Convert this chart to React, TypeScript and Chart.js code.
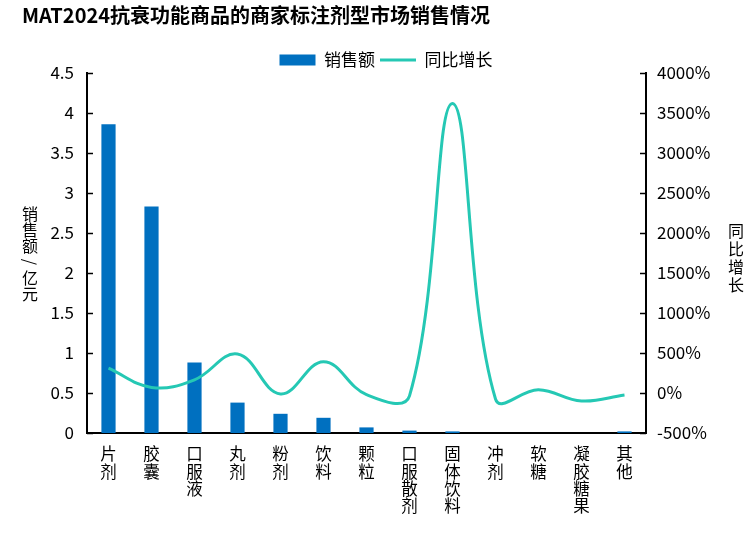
import React, { useEffect, useRef } from 'react';
import { Chart, registerables } from 'chart.js';

Chart.register(...registerables);

const titleText = 'MAT2024抗衰功能商品的商家标注剂型市场销售情况';
const categoryNames = ['片剂', '胶囊', '口服液', '丸剂', '粉剂', '饮料', '颗粒', '口服散剂', '固体饮料', '冲剂', '软糖', '凝胶糖果', '其他'];
const salesValues = [3.86, 2.83, 0.88, 0.38, 0.24, 0.19, 0.07, 0.03, 0.02, 0, 0, 0, 0.02];
const growthValues = [310, 70, 165, 487, -12, 392, -20, -35, 3620, -75, 40, -100, -25];
const seriesNames = ['销售额', '同比增长'];
const leftAxisTitle = '销售额/亿元';
const rightAxisTitle = '同比增长';
const leftTicks = { min: 0, max: 4.5, step: 0.5 };
const rightTicks = { min: -500, max: 4000, step: 500 };

const FONT = '"Noto Sans CJK SC", "Noto Sans", sans-serif';
const BAR_COLOR = '#0070C0';
const LINE_COLOR = '#25C8B4';

const innerTicksPlugin = {
  id: 'innerTicks',
  afterDraw(chart: any) {
    const ctx = chart.ctx;
    const { left, right } = chart.chartArea;
    ctx.save();
    ctx.strokeStyle = '#000';
    ctx.lineWidth = 1.5;
    const y = chart.scales.y;
    y.ticks.forEach((t: any) => {
      const p = Math.round(y.getPixelForValue(t.value)) + 0.5;
      ctx.beginPath();
      ctx.moveTo(left, p);
      ctx.lineTo(left + 6, p);
      ctx.stroke();
    });
    const y1 = chart.scales.y1;
    y1.ticks.forEach((t: any) => {
      const p = Math.round(y1.getPixelForValue(t.value)) + 0.5;
      ctx.beginPath();
      ctx.moveTo(right - 6, p);
      ctx.lineTo(right, p);
      ctx.stroke();
    });
    ctx.restore();
  },
};

const axisTitlesPlugin = {
  id: 'axisTitles',
  afterDraw(chart: any) {
    const ctx = chart.ctx;
    const { top, bottom } = chart.chartArea;
    const cy = (top + bottom) / 2;
    ctx.save();
    ctx.fillStyle = '#000';
    ctx.font = '16px ' + FONT;
    ctx.textAlign = 'center';
    ctx.textBaseline = 'middle';
    const lc = leftAxisTitle.split('');
    const lp = 16;
    lc.forEach((c, i) => {
      const x = 30;
      const yy = cy + 1 + (i - (lc.length - 1) / 2) * lp;
      if (c === '/') {
        ctx.save();
        ctx.translate(x, yy);
        ctx.rotate(Math.PI / 2);
        ctx.fillText(c, 0, 0);
        ctx.restore();
      } else {
        ctx.fillText(c, x, yy);
      }
    });
    const rc = rightAxisTitle.split('');
    const rp = 18;
    rc.forEach((c, i) => {
      ctx.fillText(c, 736, cy + 5 + (i - (rc.length - 1) / 2) * rp);
    });
    ctx.restore();
  },
};

export default function App() {
  const ref = useRef<HTMLCanvasElement | null>(null);

  useEffect(() => {
    if (!ref.current) return;
    const chart = new Chart(ref.current, {
      type: 'bar',
      data: {
        labels: categoryNames.map((n) => n.split('')),
        datasets: [
          {
            type: 'bar',
            label: seriesNames[0],
            data: salesValues,
            backgroundColor: BAR_COLOR,
            borderWidth: 0,
            barPercentage: 0.33,
            categoryPercentage: 1,
            yAxisID: 'y',
            pointStyle: 'rect',
            order: 2,
          } as any,
          {
            type: 'line',
            label: seriesNames[1],
            data: growthValues,
            borderColor: LINE_COLOR,
            backgroundColor: LINE_COLOR,
            borderWidth: 3,
            tension: 0.4,
            pointRadius: 0,
            pointStyle: 'line',
            fill: false,
            yAxisID: 'y1',
            order: 1,
          } as any,
        ],
      },
      options: {
        responsive: false,
        animation: false,
        layout: { padding: { left: 22, right: 4, top: 0, bottom: 0 } },
        plugins: {
          title: {
            display: true,
            text: titleText,
            align: 'start',
            color: '#000',
            font: { family: FONT, size: 20, weight: 'bold', lineHeight: 1.1 },
            padding: { top: 4, bottom: 20.5 },
          },
          legend: {
            display: true,
            position: 'top',
            maxHeight: 26.5,
            labels: {
              usePointStyle: true,
              pointStyleWidth: 36,
              boxHeight: 11,
              padding: 5,
              color: '#000',
              font: { family: FONT, size: 17 },
              sort: (a: any, b: any) => a.datasetIndex - b.datasetIndex,
            },
          },
          tooltip: { enabled: false },
        },
        scales: {
          x: {
            afterFit: (s: any) => { s.height = 104; },
            grid: { display: false, drawTicks: false },
            border: { display: true, color: '#000', width: 2 },
            ticks: {
              autoSkip: false,
              maxRotation: 0,
              minRotation: 0,
              padding: 12,
              color: '#000',
              font: { family: FONT, size: 16.5, lineHeight: 1.06 },
            },
          },
          y: {
            position: 'left',
            min: leftTicks.min,
            max: leftTicks.max,
            afterFit: (s: any) => { s.width = 65; },
            grid: { display: false, drawTicks: false },
            border: { display: true, color: '#000', width: 2 },
            ticks: {
              stepSize: leftTicks.step,
              padding: 13,
              color: '#000',
              font: { family: FONT, size: 17 },
              callback: (v: any) => String(Math.round(Number(v) * 10) / 10),
            },
          },
          y1: {
            position: 'right',
            min: rightTicks.min,
            max: rightTicks.max,
            afterFit: (s: any) => { s.width = 104; },
            grid: { display: false, drawTicks: false },
            border: { display: true, color: '#000', width: 2 },
            ticks: {
              stepSize: rightTicks.step,
              padding: 11,
              color: '#000',
              font: { family: FONT, size: 17 },
              callback: (v: any) => v + '%',
            },
          },
        },
      },
      plugins: [innerTicksPlugin, axisTitlesPlugin],
    } as any);
    return () => chart.destroy();
  }, []);

  return (
    <div style={{ position: 'absolute', left: 0, top: 0, width: 754, height: 537, background: '#fff' }}>
      <canvas ref={ref} width={754} height={537} style={{ display: 'block' }} />
    </div>
  );
}
